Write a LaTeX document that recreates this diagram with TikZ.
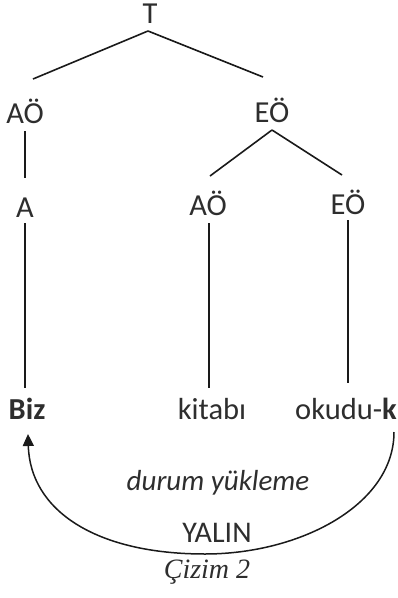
\documentclass[tikz,border=0pt]{standalone}
\usepackage{fontspec}
\setmainfont{Carlito}
\newfontfamily\serifit{Liberation Serif}
\usetikzlibrary{calc,arrows.meta}
\definecolor{ink}{HTML}{2E2E2E}
\definecolor{wire}{HTML}{1A1A1A}
\begin{document}
\begin{tikzpicture}[x=1pt,y=-1pt,
  lbl/.style={anchor=base,inner sep=0pt,text=ink,font=\fontsize{30.5}{32}\selectfont},
  plaintext/.style={anchor=base,inner sep=0pt,text=ink},
  treeline/.style={draw=wire,line width=1.6pt},
  casearrow/.style={draw=wire,line width=1.5pt,-{Triangle[length=12pt,width=11pt]}}]
\fill[white] (0,0) rectangle (397,598);
\useasboundingbox (0,0) rectangle (397,598);
\node[lbl] (T) at (150,23) {T};
\node[lbl] (aoL) at (25,123) {AÖ};
\node[lbl] (eoT) at (272,122) {EÖ};
\node[lbl] (A) at (25,217) {A};
\node[lbl] (aoM) at (208,215) {AÖ};
\node[lbl] (eoR) at (348,214) {EÖ};
\node[lbl] (biz) at (27,419) {\bfseries Biz};
\node[lbl] (kit) at (212,419) {kitabı};
\node[lbl] (oku) at (346,419) {okudu-\textbf{k}};
\node[plaintext,font=\fontsize{29}{31}\selectfont\itshape] (dur) at (218,490) {durum yükleme};
\node[plaintext,font=\fontsize{30}{32}\selectfont] (yal) at (217,542) {YALIN};
\node[plaintext,font=\fontsize{28}{30}\selectfont\serifit\itshape] (ciz) at (207,578) {Çizim 2};
\coordinate (low) at (205,554);
\draw[treeline] ($(T.base)+(-2,8)$) -- ($(aoL.base)+(8,-44)$);
\draw[treeline] ($(T.base)+(-2,8)$) -- ($(eoT.base)+(-9,-45)$);
\draw[treeline] ($(aoL.base)+(0,8)$) -- ($(A.base)+(0,-39)$);
\draw[treeline] ($(eoT.base)+(0,8)$) -- ($(aoM.base)+(2,-39)$);
\draw[treeline] ($(eoT.base)+(0,8)$) -- ($(eoR.base)+(-6,-39)$);
\draw[treeline] ($(A.base)+(0,6)$) -- ($(biz.base)+(-2,-31)$);
\draw[treeline] ($(aoM.base)+(1,8)$) -- ($(kit.base)+(-3,-31)$);
\draw[treeline] ($(eoR.base)+(0,6)$) -- ($(oku.base)+(2,-36)$);
\draw[casearrow] ($(oku.base)+(48,13)$) .. controls (394,505) and (300,554) .. (low)
  .. controls (95,554) and (30,510) .. ($(biz.base)+(1,15)$);
\end{tikzpicture}
\end{document}
